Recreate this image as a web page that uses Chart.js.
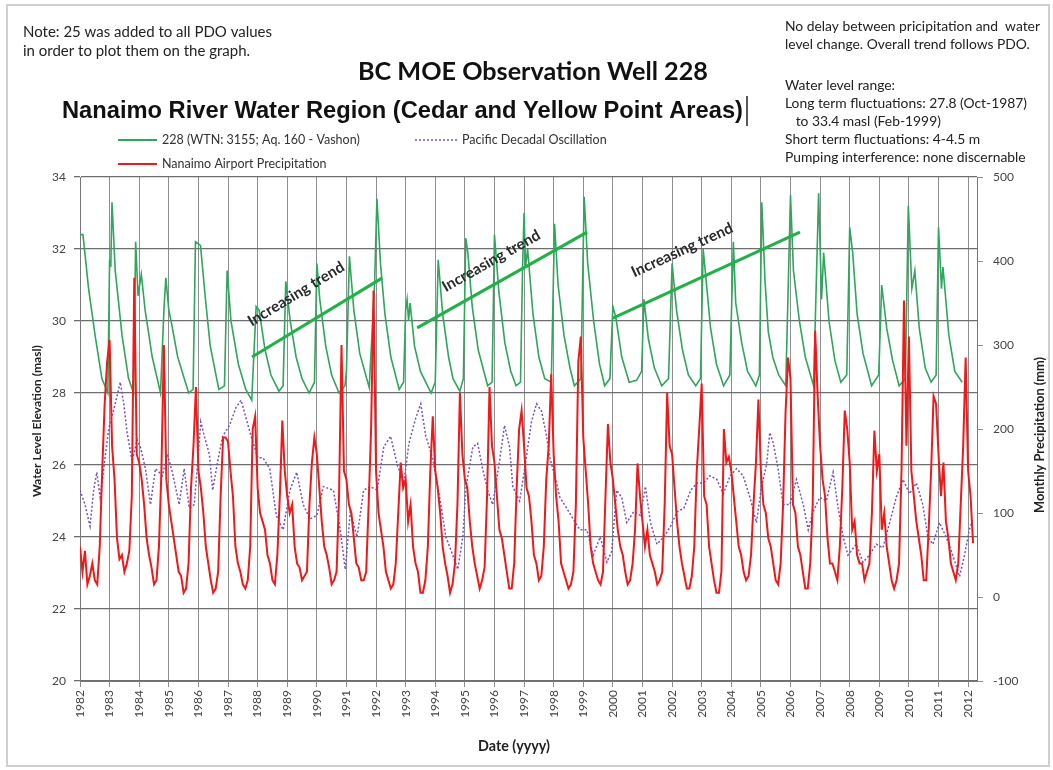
<!DOCTYPE html>
<html>
<head>
<meta charset="utf-8">
<title>BC MOE Observation Well 228</title>
<script src="https://cdn.jsdelivr.net/npm/chart.js@4/dist/chart.umd.min.js"></script>
<style>
body{margin:0;background:#fff;}
canvas{display:block;}
</style>
</head>
<body>
<canvas id="wellChart" width="1053" height="770"></canvas>
<script>
/* TICKS */
const yearTicks=[1982,1983,1984,1985,1986,1987,1988,1989,1990,1991,1992,1993,1994,1995,1996,1997,1998,1999,2000,2001,2002,2003,2004,2005,2006,2007,2008,2009,2010,2011,2012];
const levelTicks=[20,22,24,26,28,30,32,34];
const precipTicks=[-100,0,100,200,300,400,500];

/* WELL 228 WATER LEVEL (masl) - [decimal year, level] */
const wellLevel=[
[1982.00,32.4],[1982.10,32.4],[1982.29,30.9],[1982.51,29.6],[1982.74,28.4],[1982.94,28.0],
[1983.00,31.7],[1983.04,31.5],[1983.08,33.3],[1983.19,31.4],[1983.42,29.6],[1983.64,28.4],[1983.81,28.0],
[1983.88,32.2],[1983.96,30.7],[1984.07,31.3],[1984.20,30.3],[1984.44,29.0],[1984.72,28.0],
[1984.84,30.4],[1984.90,31.2],[1985.00,30.3],[1985.10,29.9],[1985.30,29.0],[1985.67,28.0],[1985.82,28.1],
[1985.90,32.2],[1986.07,32.1],[1986.25,30.5],[1986.40,29.3],[1986.69,28.1],[1986.88,28.2],
[1986.97,31.4],[1987.10,30.0],[1987.35,28.8],[1987.60,28.1],[1987.80,27.8],
[1987.95,30.4],[1988.05,30.3],[1988.25,29.2],[1988.45,28.5],[1988.72,28.05],[1988.86,28.2],
[1988.95,31.1],[1989.10,30.0],[1989.30,29.0],[1989.50,28.4],[1989.74,28.0],[1989.92,28.3],
[1990.00,31.6],[1990.10,30.6],[1990.30,29.3],[1990.50,28.5],[1990.75,28.0],[1990.95,28.2],[1991.00,28.6],
[1991.10,31.8],[1991.25,30.3],[1991.45,29.1],[1991.77,28.15],
[1991.95,31.0],[1992.03,33.4],[1992.15,31.6],[1992.30,30.2],[1992.50,29.0],[1992.78,28.1],[1992.93,28.3],
[1993.00,30.3],[1993.05,30.6],[1993.10,30.0],[1993.15,30.5],[1993.30,29.3],[1993.50,28.6],[1993.86,28.0],[1994.00,28.3],
[1994.10,31.7],[1994.25,30.2],[1994.45,29.0],[1994.60,28.4],[1994.83,28.05],[1994.95,28.4],
[1995.03,32.3],[1995.10,31.9],[1995.25,30.4],[1995.45,29.2],[1995.77,28.2],[1995.92,28.3],
[1996.00,32.4],[1996.15,30.8],[1996.35,29.4],[1996.55,28.6],[1996.73,28.2],[1996.88,28.3],
[1996.95,31.5],[1997.00,33.0],[1997.05,31.5],[1997.12,32.0],[1997.30,30.2],[1997.50,29.0],[1997.70,28.4],[1997.92,28.3],
[1998.03,32.7],[1998.15,31.0],[1998.35,29.6],[1998.55,28.7],[1998.70,28.2],[1998.92,28.4],
[1999.03,33.45],[1999.15,31.6],[1999.35,30.0],[1999.55,28.8],[1999.72,28.2],[1999.90,28.4],
[2000.00,30.4],[2000.10,30.1],[2000.30,29.0],[2000.55,28.3],[2000.80,28.35],[2000.97,28.6],
[2001.05,30.6],[2001.20,29.5],[2001.40,28.7],[2001.65,28.2],[2001.88,28.4],
[2002.00,31.6],[2002.15,30.3],[2002.35,29.2],[2002.55,28.5],[2002.80,28.2],[2002.96,28.4],
[2003.05,32.0],[2003.12,31.4],[2003.30,29.8],[2003.50,28.8],[2003.74,28.2],[2003.95,28.5],
[2004.07,32.2],[2004.15,30.5],[2004.35,29.4],[2004.55,28.6],[2004.83,28.2],[2004.95,28.5],
[2005.03,33.3],[2005.14,31.1],[2005.25,29.7],[2005.40,29.0],[2005.60,28.5],[2005.84,28.2],
[2006.00,33.5],[2006.10,31.4],[2006.30,30.0],[2006.50,29.0],[2006.78,28.2],
[2006.95,33.55],[2007.05,30.6],[2007.12,31.9],[2007.30,30.0],[2007.50,28.9],[2007.70,28.3],[2007.90,28.5],
[2008.00,32.6],[2008.10,31.9],[2008.25,30.2],[2008.45,29.1],[2008.74,28.2],[2008.98,28.5],
[2009.08,31.0],[2009.25,29.8],[2009.45,28.9],[2009.67,28.2],[2009.88,28.4],
[2009.98,33.2],[2010.10,30.9],[2010.20,31.4],[2010.35,29.8],[2010.55,28.7],[2010.75,28.3],[2010.92,28.5],
[2011.00,32.6],[2011.10,30.9],[2011.15,31.5],[2011.35,29.6],[2011.55,28.6],[2011.80,28.3]
];

/* PDO + 25 - [decimal year, value] */
const pdoLevel=[
[1982.00,25.3],[1982.17,24.9],[1982.34,24.3],[1982.46,25.3],[1982.57,25.8],[1982.68,25.1],[1982.80,25.9],[1982.97,27.0],
[1983.19,27.7],[1983.36,28.3],[1983.48,27.7],[1983.59,26.9],[1983.76,26.1],[1983.93,26.7],
[1984.04,26.5],[1984.21,25.9],[1984.38,24.9],[1984.55,25.9],[1984.78,25.7],[1984.95,26.3],
[1985.12,25.8],[1985.35,24.9],[1985.52,25.9],[1985.69,24.8],[1985.86,24.9],
[1986.08,27.2],[1986.20,26.8],[1986.37,26.3],[1986.48,25.3],[1986.65,26.1],[1986.82,26.8],
[1987.05,27.1],[1987.27,27.6],[1987.44,27.8],[1987.61,27.3],[1987.78,26.8],
[1988.01,26.2],[1988.18,26.2],[1988.41,25.9],[1988.63,24.6],[1988.86,24.2],
[1989.09,25.3],[1989.32,25.8],[1989.54,24.9],[1989.77,24.5],
[1990.00,24.6],[1990.22,25.4],[1990.56,25.3],[1990.79,24.2],[1990.96,23.1],
[1991.13,24.7],[1991.36,24.0],[1991.58,25.3],[1991.81,25.4],
[1992.04,25.3],[1992.26,26.5],[1992.49,26.8],[1992.72,26.0],[1992.94,25.5],
[1993.11,26.6],[1993.34,27.3],[1993.51,27.7],[1993.68,26.8],[1993.91,26.2],
[1994.08,25.4],[1994.19,24.9],[1994.36,24.0],[1994.59,23.5],[1994.76,23.1],[1994.93,24.0],
[1995.04,25.4],[1995.27,26.5],[1995.43,26.6],[1995.60,25.9],[1995.77,25.3],[1995.94,24.9],
[1996.17,26.1],[1996.34,27.1],[1996.51,26.5],[1996.62,25.4],[1996.85,25.0],
[1997.02,25.9],[1997.25,27.2],[1997.42,27.7],[1997.59,27.5],[1997.76,26.8],[1997.87,26.2],
[1998.04,25.7],[1998.21,25.1],[1998.44,24.8],[1998.66,24.5],[1998.89,24.2],
[1999.12,24.2],[1999.34,23.5],[1999.57,24.0],[1999.80,23.3],[1999.96,23.6],
[2000.13,25.3],[2000.30,25.1],[2000.47,24.4],[2000.70,24.7],[2000.93,24.6],
[2001.10,25.4],[2001.27,24.4],[2001.49,23.8],[2001.72,24.0],[2001.95,24.3],
[2002.17,24.7],[2002.40,24.8],[2002.63,25.3],[2002.85,25.5],
[2003.06,25.5],[2003.28,25.7],[2003.51,25.6],[2003.73,25.2],[2003.96,25.7],
[2004.18,25.9],[2004.40,25.7],[2004.63,25.1],[2004.85,24.4],
[2005.02,25.4],[2005.19,26.0],[2005.30,26.9],[2005.42,26.6],[2005.58,25.9],[2005.75,24.9],[2005.98,24.9],
[2006.20,25.6],[2006.43,24.9],[2006.60,24.2],[2006.76,24.7],[2006.99,25.1],
[2007.21,25.0],[2007.44,25.8],[2007.61,24.8],[2007.78,24.0],[2007.94,23.5],
[2008.22,23.8],[2008.45,23.3],[2008.67,23.5],[2008.90,23.8],
[2009.12,23.7],[2009.35,24.4],[2009.57,25.1],[2009.80,25.6],
[2010.02,25.2],[2010.25,25.5],[2010.47,24.9],[2010.64,24.0],[2010.81,23.8],
[2011.03,24.4],[2011.26,24.0],[2011.48,23.5],[2011.71,22.9],[2011.88,23.5],
[2012.04,24.2],[2012.16,24.5]
];

/* NANAIMO AIRPORT MONTHLY PRECIPITATION (mm), Jan 1982 onward */
const precipStart=1982;
const precipMm=[
60,30,55,15,25,40,20,15,60,150,230,280,
306,180,140,70,45,50,30,40,55,120,380,170,
160,140,110,70,50,35,15,20,60,150,300,140,
110,90,70,50,30,25,5,10,40,130,180,250,
150,130,100,60,40,20,5,10,30,120,190,190,
185,150,120,60,40,30,15,10,20,60,200,215,
130,100,90,80,50,40,20,15,50,120,210,150,
120,100,110,60,40,35,20,25,30,110,160,190,
170,130,90,60,50,35,15,20,30,120,300,150,
140,110,100,70,40,35,20,20,30,110,200,365,
150,100,80,60,30,20,10,15,40,100,160,130,
140,90,110,60,40,30,5,5,20,60,150,215,
150,130,100,60,40,25,5,15,40,110,243,170,
140,130,90,60,40,25,10,20,35,120,250,180,
160,120,80,70,50,30,10,10,40,130,200,222,
180,130,120,90,50,40,20,25,60,140,180,265,
170,120,90,40,30,20,10,15,30,110,280,310,
190,150,110,60,40,30,20,15,30,120,206,160,
140,110,80,60,50,30,15,20,40,80,159,120,
90,60,80,50,40,30,15,20,30,110,243,180,
170,130,90,60,40,25,10,10,25,60,150,200,
254,120,110,60,40,20,5,5,30,200,160,167,
150,120,90,60,50,30,20,25,50,110,160,235,
150,110,100,70,60,40,20,15,40,110,220,285,
260,110,100,60,50,30,10,10,40,110,317,240,
180,140,120,70,40,40,30,20,60,130,222,200,
160,80,90,50,40,40,20,30,40,100,198,150,
170,80,100,60,40,20,10,20,40,150,353,180,
310,150,120,90,70,50,20,20,80,150,239,230,
170,120,160,90,70,40,30,20,40,110,180,285,
150,120,64
];

/* INCREASING TREND ANNOTATIONS */
const trendLines=[
[[1987.81,29.0],[1992.20,31.19]],
[[1993.39,29.81],[1999.13,32.47]],
[[2000.00,30.08],[2006.32,32.47]]
];
const trendLabelAt=[[1989.30,30.75],[1995.89,31.67],[2002.34,31.97]];
const trendLabel="Increasing trend";

/* TEXTS */
const titleMain="BC MOE Observation Well 228";
const titleSub="Nanaimo River Water Region (Cedar and Yellow Point Areas)";
const noteLeft=["Note: 25 was added to all PDO values","in order to plot them on the graph."];
const noteRight=["No delay between pricipitation and  water","level change. Overall trend follows PDO.","","Water level range:","Long term fluctuations: 27.8 (Oct-1987)","   to 33.4 masl (Feb-1999)","Short term fluctuations: 4-4.5 m","Pumping interference: none discernable"];
const legendNames=["228 (WTN: 3155; Aq. 160 - Vashon)","Pacific Decadal Oscillation","Nanaimo Airport Precipitation"];

const GREEN="#2ea65c", RED="#f01818", PURPLE="#7650c8", TREND="#22b04a";

function fitFont(ctx,text,width,weight,family){
ctx.font=weight+" 20px "+family;
const size=20*width/ctx.measureText(text).width;
return weight+" "+size.toFixed(2)+"px "+family;
}

/* DECORATIONS */
const decor={
id:"decor",
beforeDraw(chart){
const c=chart.ctx;
c.save();
c.fillStyle="#fff";
c.fillRect(0,0,chart.width,chart.height);
c.strokeStyle="#cfcfcf";
c.lineWidth=2;
c.strokeRect(7,5,1042,761);
c.restore();
},
afterDraw(chart){
const c=chart.ctx;
c.save();
c.textBaseline="middle";
c.textAlign="left";

/* titles */
c.fillStyle="#111";
c.font=fitFont(c,titleMain,350,"bold","Lato");
c.fillText(titleMain,358,72);
c.font=fitFont(c,titleSub,681,"bold","Liberation Sans");
c.fillText(titleSub,62,111);
c.strokeStyle="#222";c.lineWidth=1.5;
c.beginPath();c.moveTo(747,96);c.lineTo(747,126);c.stroke();

/* notes */
c.fillStyle="#222";
c.font=fitFont(c,noteLeft[0],249,"normal","Lato");
c.fillText(noteLeft[0],23,32);
c.fillText(noteLeft[1],23,51);
c.font=fitFont(c,noteRight[0],255,"normal","Lato");
const ry=[27,45,66,86,104,122,140,158];
noteRight.forEach((t,i)=>{ if(t) c.fillText(t,785,ry[i]); });

/* legend */
c.font=fitFont(c,legendNames[0],198,"normal","Lato");
c.fillStyle="#333";
c.lineWidth=2;
c.strokeStyle=GREEN;c.beginPath();c.moveTo(118,140);c.lineTo(157,140);c.stroke();
c.fillText(legendNames[0],162,140);
c.strokeStyle=PURPLE;c.lineWidth=1.5;c.setLineDash([2,2]);
c.beginPath();c.moveTo(415,140);c.lineTo(457,140);c.stroke();
c.setLineDash([]);
c.fillText(legendNames[1],462,140);
c.strokeStyle=RED;c.lineWidth=2;c.beginPath();c.moveTo(118,164);c.lineTo(157,164);c.stroke();
c.fillText(legendNames[2],162,164);

/* axis titles */
c.fillStyle="#222";
c.textAlign="center";
c.font=fitFont(c,"Water Level Elevation (masl)",152,"bold","Lato");
c.save();c.translate(37,421);c.rotate(-Math.PI/2);c.fillText("Water Level Elevation (masl)",0,0);c.restore();
c.font=fitFont(c,"Monthly Precipitation (mm)",156,"bold","Lato");
c.save();c.translate(1040,435);c.rotate(-Math.PI/2);c.fillText("Monthly Precipitation (mm)",0,0);c.restore();
c.font=fitFont(c,"Date (yyyy)",72,"bold","Lato");
c.fillText("Date (yyyy)",514,746);

/* trend labels */
const xs=chart.scales.x, ys=chart.scales.y;
c.fillStyle="#2a2a2a";
c.font=fitFont(c,trendLabel,110,"bold","Lato");
trendLabelAt.forEach((p,i)=>{
const a=trendLines[i][0], b=trendLines[i][1];
const ang=Math.atan2(ys.getPixelForValue(b[1])-ys.getPixelForValue(a[1]),xs.getPixelForValue(b[0])-xs.getPixelForValue(a[0]));
c.save();
c.translate(xs.getPixelForValue(p[0]),ys.getPixelForValue(p[1]));
c.rotate(ang);
c.fillText(trendLabel,0,0);
c.restore();
});
c.restore();
}
};

/* DATASETS */
const toXY=pairs=>pairs.map(p=>({x:p[0],y:p[1]}));

const datasets=[
...trendLines.map(l=>({
data:toXY(l),yAxisID:"y",borderColor:TREND,borderWidth:3.2,order:0
})),
{
label:legendNames[2],
data:precipMm.map((v,i)=>({x:precipStart+i/12,y:v})),
yAxisID:"y2",borderColor:RED,borderWidth:2,order:1
},
{
label:legendNames[1],
data:toXY(pdoLevel),
yAxisID:"y",borderColor:PURPLE,borderWidth:1.5,borderDash:[2,2],order:2
},
{
label:legendNames[0],
data:toXY(wellLevel),
yAxisID:"y",borderColor:GREEN,borderWidth:1.6,order:3
}
];

const tickFont={family:"Lato",size:12};

new Chart(document.getElementById("wellChart"),{
type:"line",
data:{datasets:datasets},
options:{
responsive:false,
animation:false,
devicePixelRatio:1,
layout:{padding:{top:177,left:0,right:0,bottom:0}},
elements:{point:{radius:0},line:{tension:0,fill:false}},
plugins:{legend:{display:false},tooltip:{enabled:false}},
scales:{
x:{
type:"linear",min:1982,max:2012.3,
afterBuildTicks:s=>{s.ticks=yearTicks.map(v=>({value:v}));},
afterFit:s=>{s.height=89;},
grid:{color:"#8e8e8e",tickLength:6},
border:{color:"#777"},
ticks:{autoSkip:false,minRotation:90,maxRotation:90,font:tickFont,color:"#444",padding:3,callback:v=>String(v)}
},
y:{
position:"left",min:20,max:34,
afterBuildTicks:s=>{s.ticks=levelTicks.map(v=>({value:v}));},
afterFit:s=>{s.width=80;},
grid:{color:"#6e6e6e",lineWidth:1.3,tickLength:6},
border:{color:"#777"},
ticks:{font:tickFont,color:"#444",padding:8}
},
y2:{
position:"right",min:-100,max:500,
afterBuildTicks:s=>{s.ticks=precipTicks.map(v=>({value:v}));},
afterFit:s=>{s.width=76;},
grid:{drawOnChartArea:false,color:"#8e8e8e",tickLength:6},
border:{color:"#777"},
ticks:{font:tickFont,color:"#444",padding:10}
}
}
},
plugins:[decor]
});
</script>
</body>
</html>
